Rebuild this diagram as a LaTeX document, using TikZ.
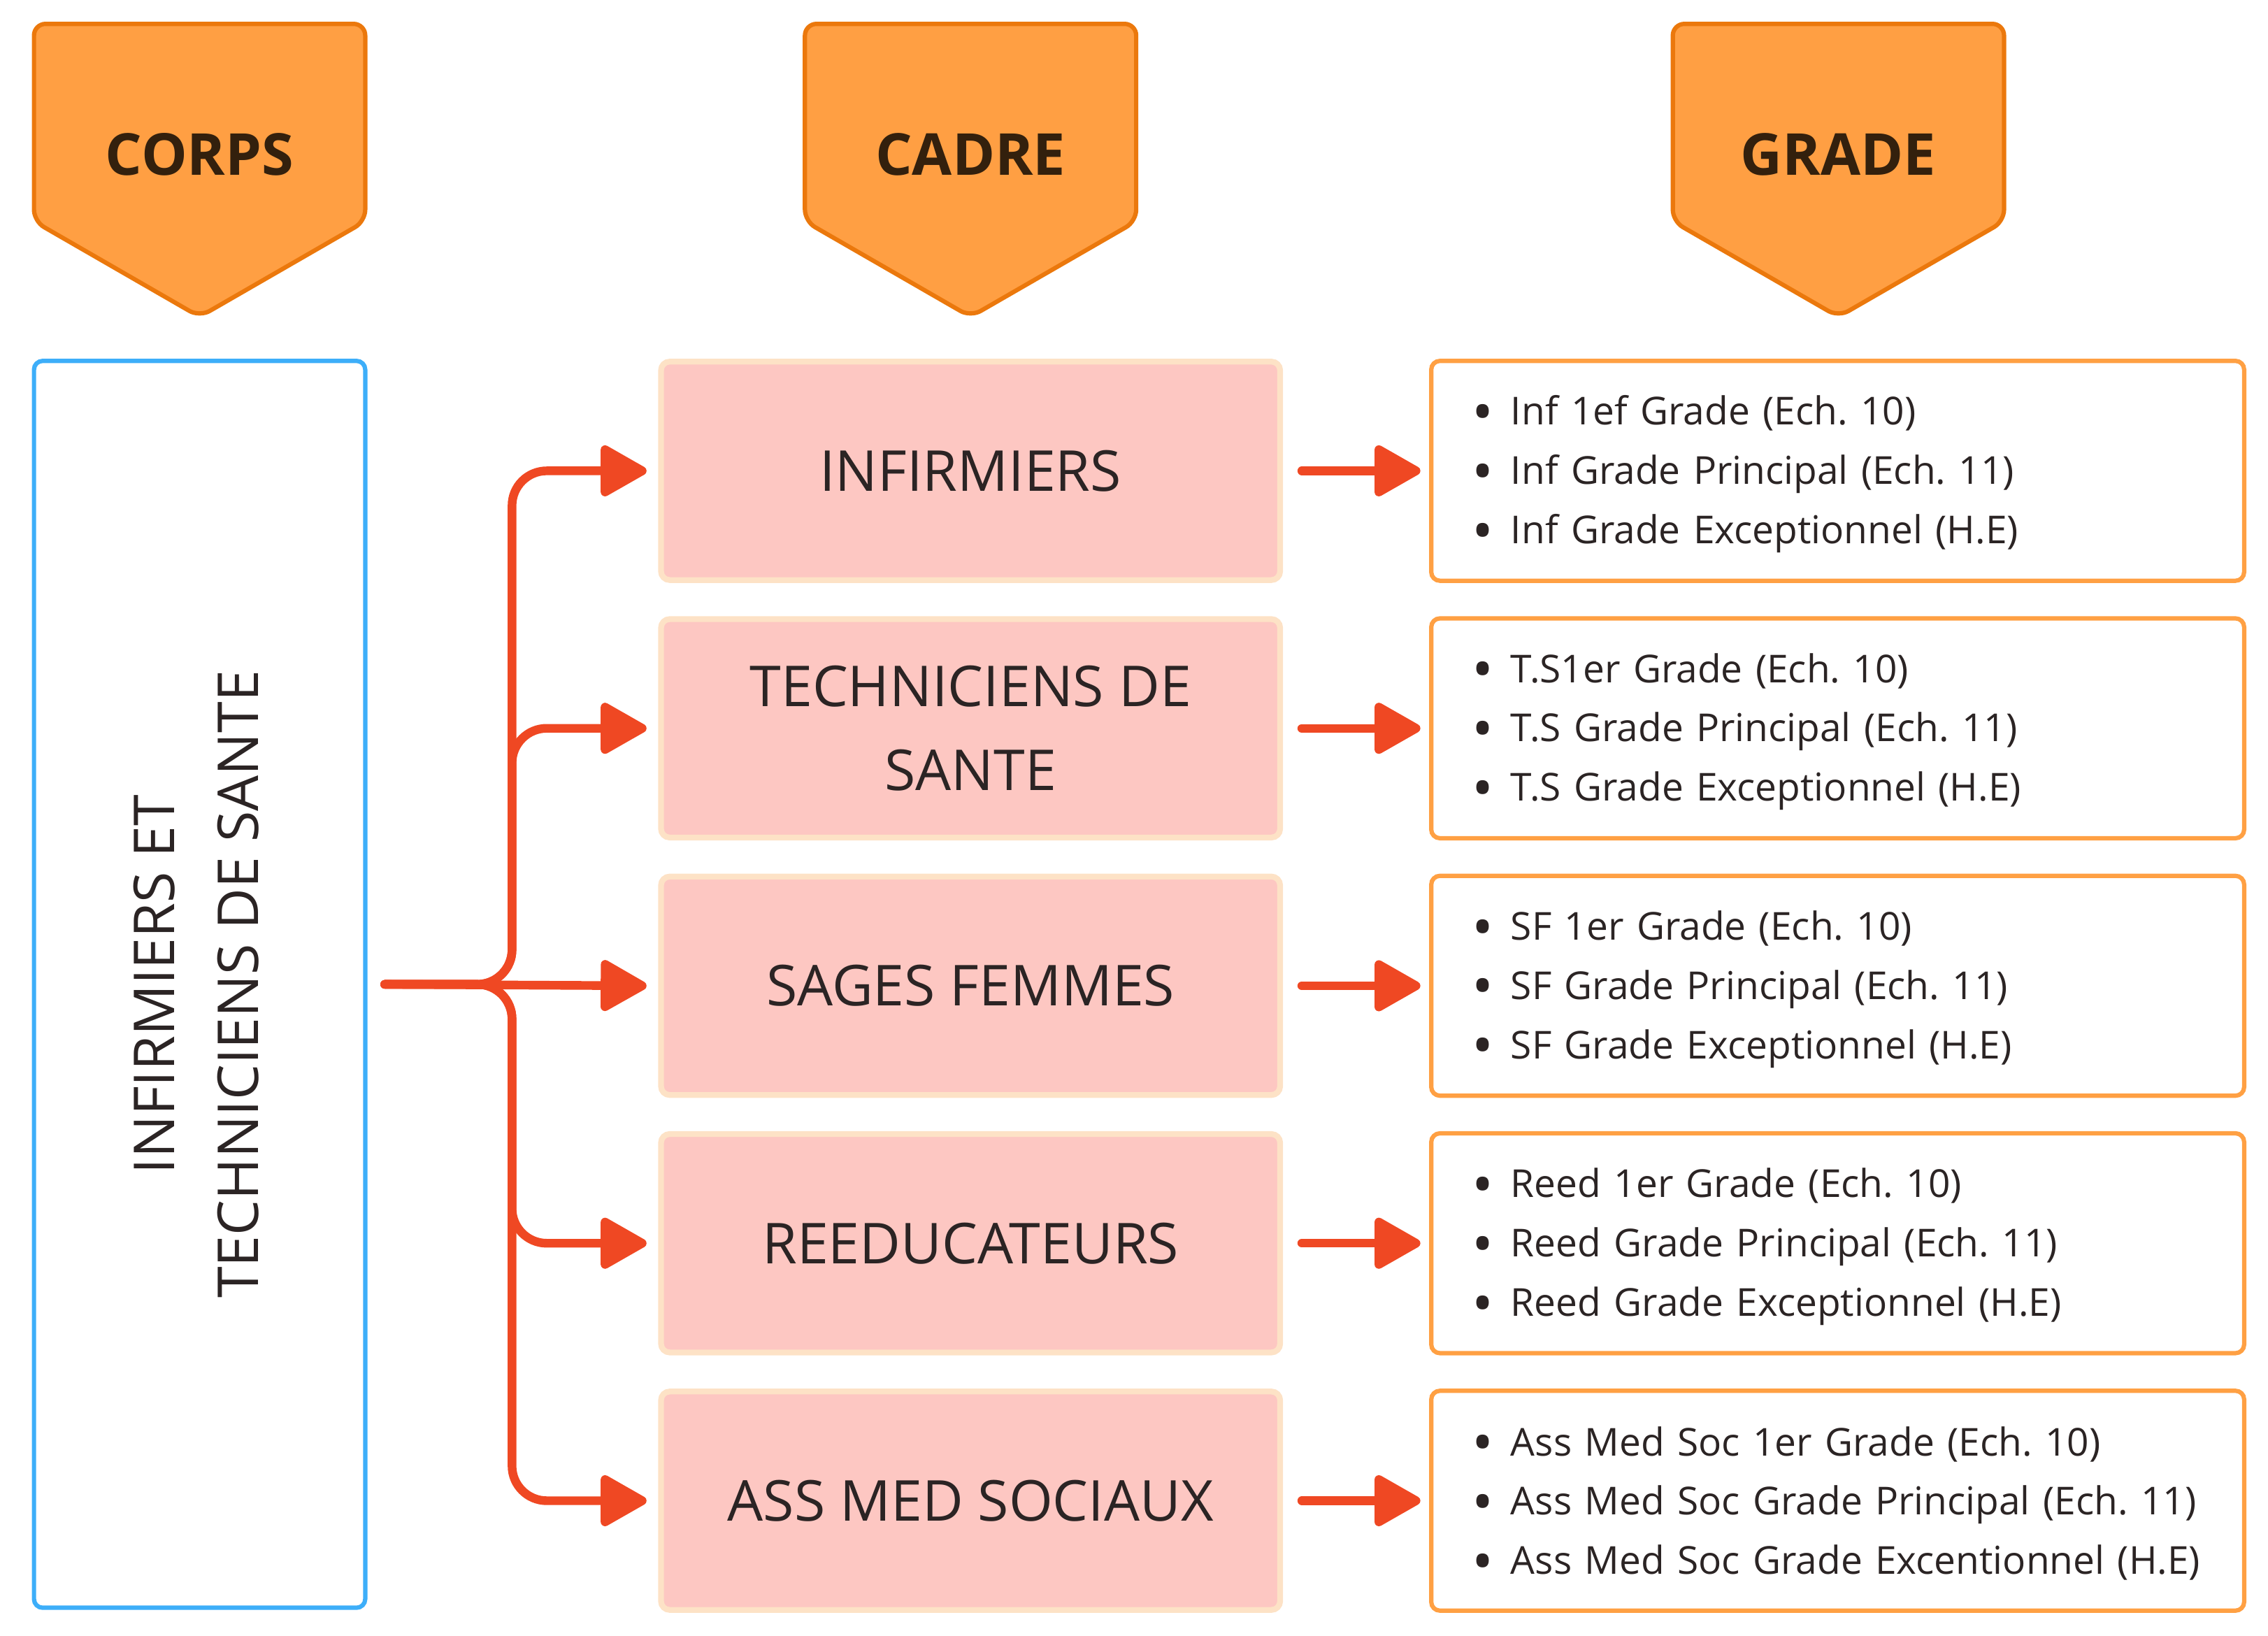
\documentclass[tikz,border=0pt]{standalone}
\usepackage{fontspec}
\setmainfont{Open Sans}
\usepackage{graphicx}
\usepackage{tikz}
\usetikzlibrary{arrows.meta,positioning}

\definecolor{hdrfill}{HTML}{FF9F43}
\definecolor{hdrline}{HTML}{EB780C}
\definecolor{hdrtext}{HTML}{33200D}
\definecolor{corpsline}{HTML}{3DAEF9}
\definecolor{cadrefill}{HTML}{FDC7C2}
\definecolor{cadreline}{HTML}{FDE2C6}
\definecolor{gradeline}{HTML}{FFA043}
\definecolor{flow}{HTML}{EF4823}
\definecolor{ink}{HTML}{2B2424}

\newcommand{\itm}{\rule{0pt}{12.5pt}\hspace*{8pt}\makebox[10.5pt][l]{\hspace*{-3pt}\raisebox{-2.6pt}{\scalebox{1.5}{\textbullet}}}}
\frenchspacing

\begin{document}
\begin{tikzpicture}[x=0.5pt,y=-0.5pt,>={Triangle[length=17.5pt,width=19pt,round]},
  hdr/.style={fill=hdrfill, draw=hdrline, line width=1.5pt, rounded corners=4pt},
  hdrlbl/.style={text=hdrtext, font=\fontsize{20}{24}\selectfont\bfseries},
  corps/.style={draw=corpsline, line width=1.5pt, rounded corners=3pt, minimum width=114.5pt, minimum height=431pt, text=ink, font=\fontsize{19.5}{29}\selectfont},
  cadre/.style={fill=cadrefill, draw=cadreline, line width=2pt, rounded corners=3pt, minimum width=214pt, minimum height=75.5pt, text=ink, align=center, font=\fontsize{19.5}{29}\selectfont},
  grade/.style={draw=gradeline, line width=1.5pt, rounded corners=3pt, minimum width=281pt, minimum height=76pt, text width=263pt, inner xsep=9pt, align=left, text=ink, font=\fontsize{13.3}{20.5}\selectfont},
  flowline/.style={->, draw=flow, line width=3pt, line cap=round, rounded corners=12pt}]

\useasboundingbox (0,0) rectangle (1568,1131);

% headers
\draw[hdr] (23.5,16.5) -- (252.5,16.5) -- (252.5,153) -- (138,219) -- (23.5,153) -- cycle;
\draw[hdr] (556.5,16.5) -- (785.5,16.5) -- (785.5,153) -- (671,219) -- (556.5,153) -- cycle;
\draw[hdr] (1156.5,16.5) -- (1385.5,16.5) -- (1385.5,153) -- (1271,219) -- (1156.5,153) -- cycle;
\node[hdrlbl] (hcorps) at (138,107) {CORPS};
\node[hdrlbl] (hcadre) at (671,107) {CADRE};
\node[hdrlbl] (hgrade) at (1271,107) {GRADE};

% corps
\node[corps] (sante) at (138,680.5) {\rotatebox{90}{\begin{tabular}{@{}c@{}}INFIRMIERS ET\\TECHNICIENS DE SANTE\end{tabular}}};

% cadres
\node[cadre] (inf) at (671,325.5) {INFIRMIERS};
\node[cadre] (tech) [below=11.5pt of inf] {TECHNICIENS DE\\SANTE};
\node[cadre] (sf) [below=11.5pt of tech] {SAGES FEMMES};
\node[cadre] (reed) [below=11.5pt of sf] {REEDUCATEURS};
\node[cadre] (ams) [below=11.5pt of reed] {ASS MED SOCIAUX};

% grades
\node[grade] (ginf) [right=50.5pt of inf] {\itm Inf 1ef Grade (Ech. 10)\\\itm Inf Grade Principal (Ech. 11)\\\itm Inf Grade Exceptionnel (H.E)};
\node[grade] (gtech) [right=50.5pt of tech] {\itm T.S1er Grade (Ech. 10)\\\itm T.S Grade Principal (Ech. 11)\\\itm T.S Grade Exceptionnel (H.E)};
\node[grade] (gsf) [right=50.5pt of sf] {\itm SF 1er Grade (Ech. 10)\\\itm SF Grade Principal (Ech. 11)\\\itm SF Grade Exceptionnel (H.E)};
\node[grade] (greed) [right=50.5pt of reed] {\itm Reed 1er Grade (Ech. 10)\\\itm Reed Grade Principal (Ech. 11)\\\itm Reed Grade Exceptionnel (H.E)};
\node[grade] (gams) [right=50.5pt of ams] {\itm Ass Med Soc 1er Grade (Ech. 10)\\\itm Ass Med Soc Grade Principal (Ech. 11)\\\itm Ass Med Soc Grade Excentionnel (H.E)};

% corps -> cadres
\draw[flowline] ([xshift=6pt]sante.east) -| ([xshift=-50.5pt]inf.west) -- ([xshift=-4pt]inf.west);
\draw[flowline] ([xshift=6pt]sante.east) -| ([xshift=-50.5pt]tech.west) -- ([xshift=-4pt]tech.west);
\draw[flowline] ([xshift=6pt]sante.east) -- ([xshift=-4pt]sf.west);
\draw[flowline] ([xshift=6pt]sante.east) -| ([xshift=-50.5pt]reed.west) -- ([xshift=-4pt]reed.west);
\draw[flowline] ([xshift=6pt]sante.east) -| ([xshift=-50.5pt]ams.west) -- ([xshift=-4pt]ams.west);

% cadres -> grades
\draw[flowline] ([xshift=6.5pt]inf.east) -- ([xshift=-3pt]ginf.west);
\draw[flowline] ([xshift=6.5pt]tech.east) -- ([xshift=-3pt]gtech.west);
\draw[flowline] ([xshift=6.5pt]sf.east) -- ([xshift=-3pt]gsf.west);
\draw[flowline] ([xshift=6.5pt]reed.east) -- ([xshift=-3pt]greed.west);
\draw[flowline] ([xshift=6.5pt]ams.east) -- ([xshift=-3pt]gams.west);
\end{tikzpicture}
\end{document}
